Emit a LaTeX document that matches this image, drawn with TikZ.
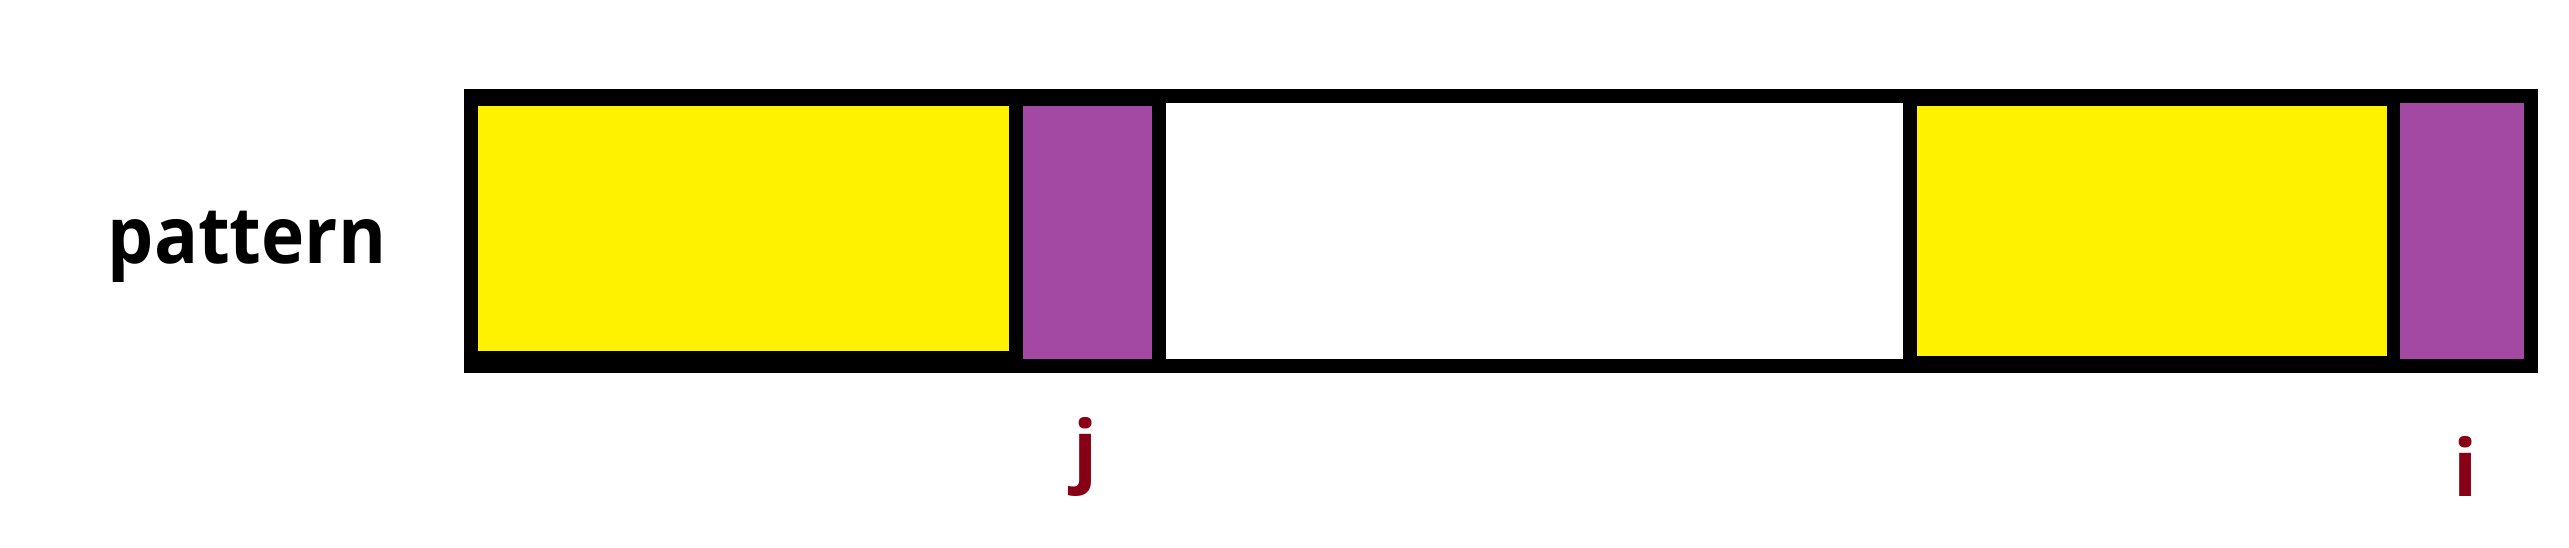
\documentclass[tikz,border=0pt]{standalone}
\usepackage{fontspec}
\setmainfont{Open Sans}
\newfontfamily\patfont[FakeStretch=0.925]{Open Sans}
\definecolor{cellyellow}{HTML}{FFF200}
\definecolor{cellpurple}{HTML}{A349A4}
\definecolor{idxred}{HTML}{880015}
\tikzset{
    lbl/.style={inner sep=0pt, font=\fontsize{22.5pt}{27pt}\selectfont\bfseries},
    idx/.style={lbl, text=idxred, anchor=base}
}
\begin{document}
\begin{tikzpicture}[x=0.1mm,y=-0.1mm]
        \useasboundingbox (0,0) rectangle (2569,547);
        \fill[black]      (464,89)   rectangle (2538,373);
        \fill[cellyellow] (478,106)  rectangle (1009,351);
        \fill[cellpurple] (1023,106) rectangle (1152,359);
        \fill[white]      (1166,103) rectangle (1903,359);
        \fill[cellyellow] (1917,106) rectangle (2387,356);
        \fill[cellpurple] (2400,103) rectangle (2524,359);
        \node[lbl, anchor=base west, font=\fontsize{22.5pt}{27pt}\patfont\bfseries] (pattern) at (107,263) {pattern};
        \node[idx] (j) at (1086,477) {j};
        \node[idx] (i) at (2466,496) {i};
    \end{tikzpicture}
\end{document}
